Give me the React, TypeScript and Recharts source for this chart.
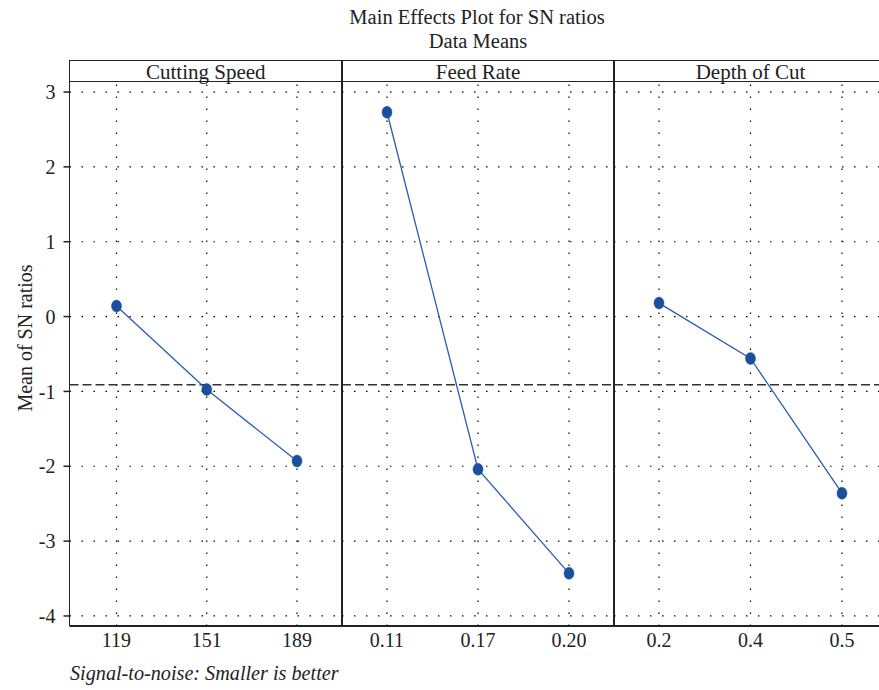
import React from "react";
import { LineChart, Line, XAxis, YAxis, ReferenceLine } from "recharts";

const cuttingSpeedLevels = ["119", "151", "189"];
const cuttingSpeedMeans = [0.14, -0.975, -1.93];
const feedRateLevels = ["0.11", "0.17", "0.20"];
const feedRateMeans = [2.73, -2.04, -3.43];
const depthOfCutLevels = ["0.2", "0.4", "0.5"];
const depthOfCutMeans = [0.18, -0.56, -2.36];
const panelTitles = ["Cutting Speed", "Feed Rate", "Depth of Cut"];
const overallMean = -0.91;
const yTicks = [-4, -3, -2, -1, 0, 1, 2, 3];
const yDomain = [-4.134, 3.134];

const FONT = '"Liberation Serif", "Times New Roman", serif';
const INK = "#222";
const FS = 20;

const toRows = (levels: string[], means: number[]) =>
  levels.map((level, i) => ({ level, mean: means[i] }));

const Dot = (props: any) => {
  const { cx, cy, index } = props;
  if (cx == null || cy == null) return null;
  return <ellipse key={index} cx={cx} cy={cy} rx={5} ry={6} fill="#1b4f9e" stroke="#1b4f9e" strokeWidth={0.5} />;
};

const gridStyle = { stroke: "#000", strokeDasharray: "1.5 10.5", strokeWidth: 1.2 };

function Panel({ left, width, data, levels, showY, pad }: any) {
  return (
    <div style={{ position: "absolute", left, top: 0 }}>
      <LineChart width={width} height={690} data={data} margin={{ top: 82, right: 0, bottom: 0, left: 0 }}>
        <XAxis
          dataKey="level"
          type="category"
          height={64}
          interval={0}
          axisLine={{ stroke: INK, strokeWidth: 2 }}
          tickLine={false}
          tickMargin={1}
          padding={pad}
          tick={{ fill: INK, fontSize: FS, fontFamily: FONT }}
        />
        <YAxis
          hide={!showY}
          width={showY ? 69.5 : 0}
          type="number"
          domain={yDomain}
          ticks={yTicks}
          allowDataOverflow
          axisLine={false}
          tickLine={{ stroke: INK, strokeWidth: 1.5 }}
          tickSize={6}
          tickMargin={8}
          tick={{ fill: INK, fontSize: FS, fontFamily: FONT }}
        />
        {yTicks.map((t) => (
          <ReferenceLine key={"gy" + t} y={t} {...gridStyle} />
        ))}
        {levels.map((l: string) => (
          <ReferenceLine key={"gx" + l} x={l} {...gridStyle} />
        ))}
        <ReferenceLine y={overallMean} stroke="#333" strokeDasharray="9 4" strokeWidth={1.5} />
        <Line
          type="linear"
          dataKey="mean"
          stroke="#2a5db0"
          strokeWidth={1.3}
          dot={<Dot />}
          activeDot={false}
          isAnimationActive={false}
        />
      </LineChart>
    </div>
  );
}

const vline = (x: number, top: number, bottom: number) => (
  <div
    key={"v" + x}
    style={{ position: "absolute", left: x - 0.75, top, width: 1.5, height: bottom - top, background: INK }}
  />
);

export default function App() {
  const panels = [
    { left: 0, width: 342, levels: cuttingSpeedLevels, data: toRows(cuttingSpeedLevels, cuttingSpeedMeans), showY: true, pad: { left: 47, right: 45 }, hx: 69.5, hw: 272.5 },
    { left: 342, width: 272, levels: feedRateLevels, data: toRows(feedRateLevels, feedRateMeans), showY: false, pad: { left: 45, right: 45 }, hx: 342, hw: 272 },
    { left: 614, width: 273, levels: depthOfCutLevels, data: toRows(depthOfCutLevels, depthOfCutMeans), showY: false, pad: { left: 45, right: 45 }, hx: 614, hw: 273 },
  ];
  return (
    <div
      style={{
        position: "absolute",
        left: 0,
        top: 0,
        width: 879,
        height: 690,
        overflow: "hidden",
        background: "#fff",
        fontFamily: FONT,
        color: INK,
      }}
    >
      {panels.map((p, i) => (
        <Panel key={i} left={p.left} width={p.width} data={p.data} levels={p.levels} showY={p.showY} pad={p.pad} />
      ))}
      <div style={{ position: "absolute", left: 277, width: 400, top: 4, textAlign: "center", fontSize: 20.5, lineHeight: "26px" }}>
        Main Effects Plot for SN ratios
      </div>
      <div style={{ position: "absolute", left: 278, width: 400, top: 28, textAlign: "center", fontSize: 20.5, lineHeight: "26px" }}>
        Data Means
      </div>
      {panels.map((p, i) => (
        <div
          key={"h" + i}
          style={{
            position: "absolute",
            left: p.hx,
            width: p.hw,
            top: 60,
            height: 20,
            borderTop: "1.5px solid " + INK,
            borderBottom: "1.5px solid " + INK,
            textAlign: "center",
            fontSize: 21,
            lineHeight: "22px",
            background: "#fff",
          }}
        >
          {panelTitles[i]}
        </div>
      ))}
      {vline(69.5, 60, 626)}
      {vline(342, 60, 626)}
      {vline(614, 60, 626)}
      <div
        style={{
          position: "absolute",
          left: 25 - 100,
          top: 338 - 13,
          width: 200,
          height: 26,
          lineHeight: "26px",
          textAlign: "center",
          fontSize: FS,
          transform: "rotate(-90deg)",
        }}
      >
        Mean of SN ratios
      </div>
      <div style={{ position: "absolute", left: 70, top: 660, fontSize: 20.2, fontStyle: "italic", lineHeight: "26px" }}>
        Signal-to-noise: Smaller is better
      </div>
    </div>
  );
}
